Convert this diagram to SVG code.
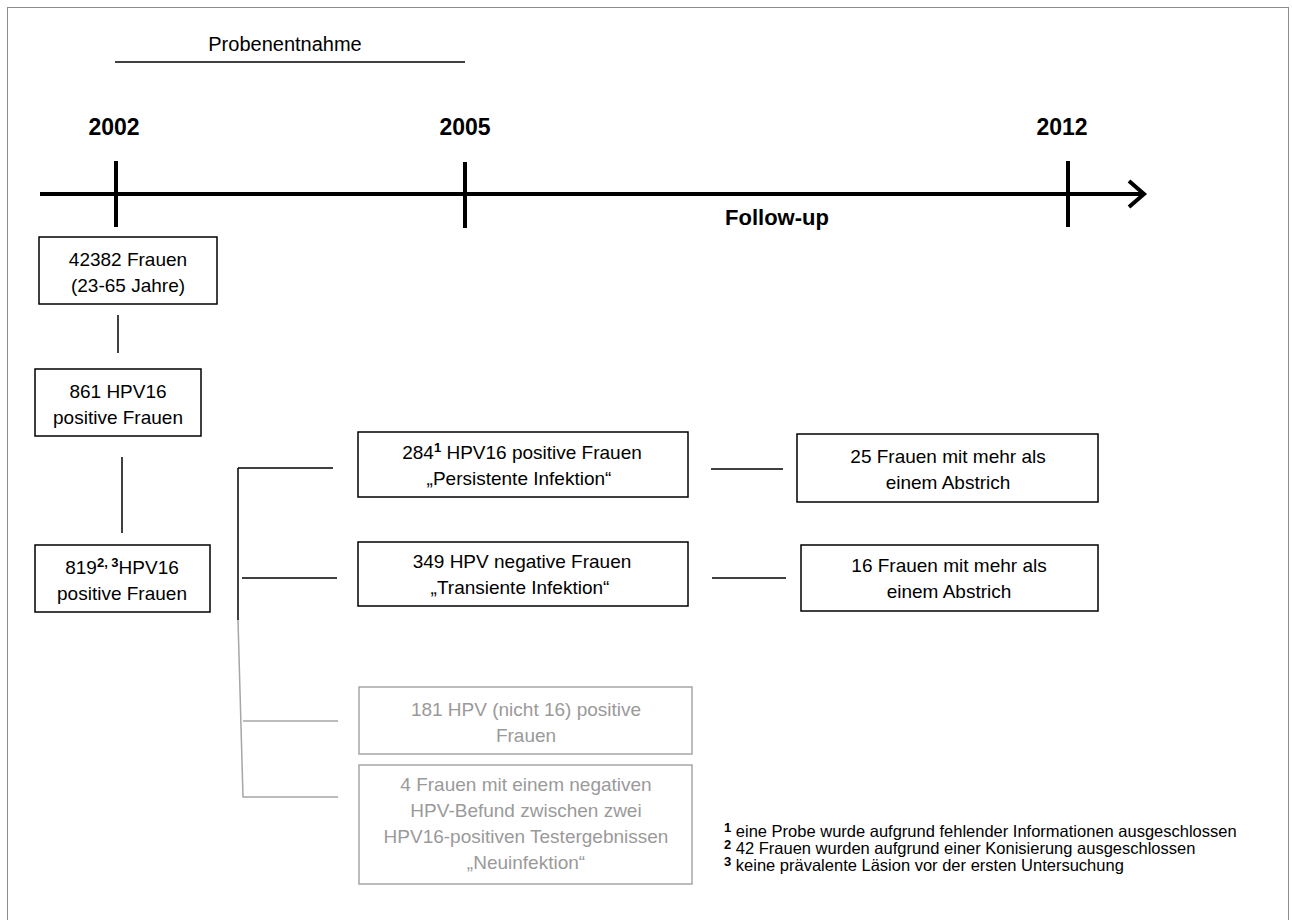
<svg xmlns="http://www.w3.org/2000/svg" width="1292" height="920" viewBox="0 0 1292 920">
  <style>
    text { font-family: "Liberation Sans", Arial, sans-serif; fill: #000; }
    .lbl { font-size: 19px; text-anchor: middle; }
    .yr { font-size: 23px; font-weight: bold; text-anchor: middle; }
    .box { fill: #fff; stroke: #000; stroke-width: 1.5; }
    .gbox { fill: #fff; stroke: #a6a6a6; stroke-width: 1.5; }
    .glbl { font-size: 19px; text-anchor: middle; fill: #9a9a9a; }
    .ln { stroke: #000; stroke-width: 1.5; fill: none; }
    .gln { stroke: #a6a6a6; stroke-width: 1.5; fill: none; }
    .axis { stroke: #000; stroke-width: 4; fill: none; }
    .fn { font-size: 16.5px; }
    .sup { font-size: 13px; font-weight: bold; }
  </style>

  <!-- outer frame -->
  <rect x="7.5" y="7.5" width="1281" height="930" fill="#fff" stroke="#8c8c8c" stroke-width="1"/>

  <!-- timeline -->
  <g id="timeline">
    <text x="285" y="51" class="lbl" style="font-size:20px">Probenentnahme</text>
    <line x1="115" y1="62" x2="465" y2="62" class="ln"/>
    <text x="114" y="135" class="yr">2002</text>
    <text x="465" y="135" class="yr">2005</text>
    <text x="1062" y="135" class="yr">2012</text>
    <line x1="40" y1="194" x2="1143" y2="194" class="axis"/>
    <polyline points="1129,181 1144,194 1129,207" class="axis"/>
    <line x1="116" y1="161" x2="116" y2="227" class="axis"/>
    <line x1="465" y1="162" x2="465" y2="228" class="axis"/>
    <line x1="1068" y1="161" x2="1068" y2="227" class="axis"/>
    <text x="777" y="225" class="yr" style="font-size:22px">Follow-up</text>
  </g>

  <!-- connectors -->
  <g id="connectors">
    <line x1="118" y1="315" x2="118" y2="353" class="ln"/>
    <line x1="122" y1="457" x2="122" y2="533" class="ln"/>
    <line x1="238" y1="468" x2="238" y2="620" class="ln"/>
    <line x1="238" y1="468" x2="333" y2="468" class="ln"/>
    <line x1="242" y1="578" x2="337" y2="578" class="ln"/>
    <polyline points="238,620 243,797 338,797" class="gln"/>
    <line x1="243" y1="721" x2="338" y2="721" class="gln"/>
    <line x1="711" y1="469" x2="783" y2="469" class="ln"/>
    <line x1="712" y1="578" x2="786" y2="578" class="ln"/>
  </g>

  <g id="n-42382">
    <rect x="39" y="237" width="178" height="67" class="box"/>
    <text x="128" y="266" class="lbl">42382 Frauen</text>
    <text x="128" y="292" class="lbl">(23-65 Jahre)</text>
  </g>

  <g id="n-861">
    <rect x="35" y="369" width="166" height="67" class="box"/>
    <text x="118" y="398" class="lbl">861 HPV16</text>
    <text x="118" y="424" class="lbl">positive Frauen</text>
  </g>

  <g id="n-819">
    <rect x="35" y="545" width="175" height="67" class="box"/>
    <text x="122" y="574" class="lbl">819<tspan class="sup" dy="-7">2, 3</tspan><tspan dy="7">HPV16</tspan></text>
    <text x="122" y="600" class="lbl">positive Frauen</text>
  </g>

  <g id="n-284">
    <rect x="358" y="432" width="330" height="65" class="box"/>
    <text x="522" y="459" class="lbl">284<tspan class="sup" dy="-7">1</tspan><tspan dy="7"> HPV16 positive Frauen</tspan></text>
    <text x="519" y="485" class="lbl">„Persistente Infektion“</text>
  </g>

  <g id="n-349">
    <rect x="358" y="542" width="330" height="64" class="box"/>
    <text x="522" y="568" class="lbl">349 HPV negative Frauen</text>
    <text x="520" y="594" class="lbl">„Transiente Infektion“</text>
  </g>

  <g id="n-181">
    <rect x="359" y="687" width="333" height="67" class="gbox"/>
    <text x="526" y="716" class="glbl">181 HPV (nicht 16) positive</text>
    <text x="526" y="742" class="glbl">Frauen</text>
  </g>

  <g id="n-4">
    <rect x="359" y="765" width="333" height="119" class="gbox"/>
    <text x="526" y="791" class="glbl">4 Frauen mit einem negativen</text>
    <text x="526" y="817" class="glbl">HPV-Befund zwischen zwei</text>
    <text x="526" y="843" class="glbl">HPV16-positiven Testergebnissen</text>
    <text x="526" y="869" class="glbl">„Neuinfektion“</text>
  </g>

  <g id="n-25">
    <rect x="797" y="434" width="301" height="68" class="box"/>
    <text x="948" y="463" class="lbl">25 Frauen mit mehr als</text>
    <text x="948" y="489" class="lbl">einem Abstrich</text>
  </g>

  <g id="n-16">
    <rect x="801" y="545" width="297" height="66" class="box"/>
    <text x="949" y="572" class="lbl">16 Frauen mit mehr als</text>
    <text x="949" y="598" class="lbl">einem Abstrich</text>
  </g>

  <!-- footnotes -->
  <g id="footnotes">
    <text x="724" y="837" class="fn"><tspan class="sup" dy="-5">1</tspan><tspan dy="5"> eine Probe wurde aufgrund fehlender Informationen ausgeschlossen</tspan></text>
    <text x="724" y="854" class="fn"><tspan class="sup" dy="-5">2</tspan><tspan dy="5"> 42 Frauen wurden aufgrund einer Konisierung ausgeschlossen</tspan></text>
    <text x="724" y="871" class="fn"><tspan class="sup" dy="-5">3</tspan><tspan dy="5"> keine prävalente Läsion vor der ersten Untersuchung</tspan></text>
  </g>
</svg>
